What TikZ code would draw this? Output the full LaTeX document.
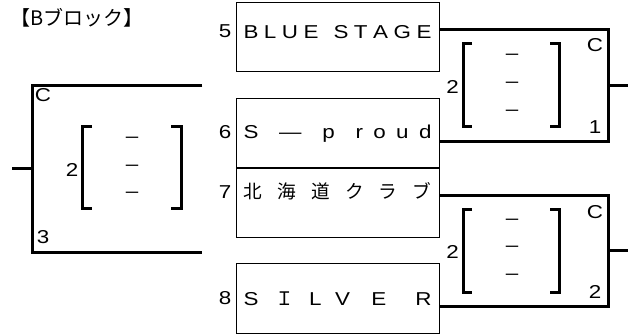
\documentclass[tikz,border=0pt]{standalone}
\usepackage{fontspec}
\setmainfont{Liberation Sans}[FakeStretch=1.2]
\newfontfamily\jp{Noto Sans CJK JP}
\usetikzlibrary{positioning}
\newcommand{\cellfont}{\fontsize{14pt}{16pt}\selectfont}
\newcommand{\spread}[1]{\makebox[141pt][s]{#1}}

\begin{document}
\begin{tikzpicture}[x=0.75pt,y=-0.75pt,
    team/.style={draw, line width=0.75pt, inner sep=0pt, minimum width=152.25pt, minimum height=51.75pt, text height=10pt, text depth=0pt, font=\cellfont},
    slot/.style={inner sep=0pt, minimum width=126pt},
    tag/.style={inner sep=0pt, font=\cellfont},
    bar/.style={line width=2.25pt}]
        \useasboundingbox (0,0) rectangle (638,334);
        % Title
        \node (title) [tag, font=\fontsize{15pt}{17pt}\selectfont] at (77,18) {\jp 【Bブロック】};

        % Teams
        \node (t5) [team] at (337.5,37.5) {\raisebox{4.5pt}{\spread{B\hfill L\hfill U\hfill E\hfill\hspace{3pt}\hfill S\hfill T\hfill A\hfill G\hfill E}}};
        \node (t6) [team] at (337.5,133.5) {\raisebox{1.4pt}{\spread{S\hfill\hfill —\hfill\hfill p\hfill\hfill r\hfill o\hfill u\hfill d}}};
        \node (t7) [team] at (337.5,203) {\raisebox{8.6pt}{\spread{\jp 北\hfill 海\hfill 道\hfill ク\hfill ラ\hfill ブ}}};
        \node (t8) [team] at (337.5,298.5) {\spread{S\hspace{0pt plus 1.1fill}{\jp Ｉ}\hspace{0pt plus 1fill}L\hspace{0pt plus 0.9fill}V\hspace{0pt plus 1.4fill}E\hspace{0pt plus 1.9fill}R}};
        \node (n5) [tag] at (225,30.7) {5};
        \node (n6) [tag] at (225,131.7) {6};
        \node (n7) [tag] at (225,192.5) {7};
        \node (n8) [tag] at (225,298.3) {8};

        % Match slots
        \node (w0) [slot, minimum width=126.75pt, minimum height=124.5pt] at (117.5,169) {};
        \node (w1) [slot, minimum height=83.25pt] at (524,85.5) {};
        \node (w2) [slot, minimum height=82.5pt] at (524,251) {};
        \coordinate (o0) at (12,169);
        \coordinate (o1) at (628,85.5);
        \coordinate (o2) at (628,251);

        % Draw lines
        \draw[bar] (w0.north east) -- (w0.north west) -- (w0.south west) -- (w0.south east);
        \draw[bar] (w0.west) -- (o0);
        \draw[bar] (t5.east |- w1.north) -- (w1.north east) -- (w1.south east) -- (t6.east |- w1.south);
        \draw[bar] (w1.east) -- (o1);
        \draw[bar] (t7.east |- w2.north) -- (w2.north east) -- (w2.south east) -- (t8.east |- w2.south);
        \draw[bar] (w2.east) -- (o2);

        % Left slot
        \node (c0) [tag] at (43,95) {C};
        \node (r0) [tag] at (43,237.5) {3};
        \node (g0) [tag] at (72,169.5) {2};
        \draw[bar] (92,127) -- (82,127) -- (82,209) -- (92,209);
        \draw[bar] (171,127) -- (181,127) -- (181,209) -- (171,209);
        \node (d0a) [tag] at (132,140) {–};
        \node (d0b) [tag] at (132,168.3) {–};
        \node (d0c) [tag] at (132,195) {–};

        % Upper right slot
        \node (c1) [tag] at (595,45) {C};
        \node (r1) [tag] at (595,127.5) {1};
        \node (g1) [tag] at (452.5,86.5) {2};
        \draw[bar] (472,43.5) -- (463,43.5) -- (463,127) -- (472,127);
        \draw[bar] (550,43.5) -- (559,43.5) -- (559,127) -- (550,127);
        \node (d1a) [tag] at (512,57) {–};
        \node (d1b) [tag] at (512,85) {–};
        \node (d1c) [tag] at (512,113) {–};

        % Lower right slot
        \node (c2) [tag] at (595,212.5) {C};
        \node (r2) [tag] at (595,292) {2};
        \node (g2) [tag] at (452.5,251.5) {2};
        \draw[bar] (472,209.5) -- (463,209.5) -- (463,292.5) -- (472,292.5);
        \draw[bar] (550,209.5) -- (559,209.5) -- (559,292.5) -- (550,292.5);
        \node (d2a) [tag] at (512,222.3) {–};
        \node (d2b) [tag] at (512,249.3) {–};
        \node (d2c) [tag] at (512,277.3) {–};
    \end{tikzpicture}
\end{document}
